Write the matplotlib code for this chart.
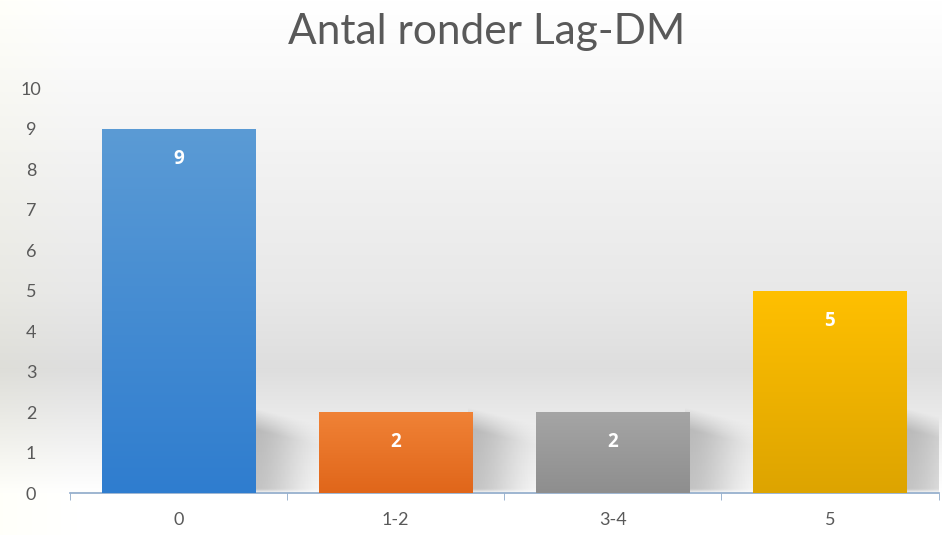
import numpy as np
import matplotlib
matplotlib.use("Agg")
import matplotlib.pyplot as plt
from matplotlib.colors import LinearSegmentedColormap

categories = ["0", "1-2", "3-4", "5"]
values = [9, 2, 2, 5]
top_colors = ["#5B9BD5", "#F08236", "#A5A5A5", "#FFC000"]
bottom_colors = ["#2F7DCF", "#E0661A", "#8E8E8E", "#DDA400"]
yticks = list(range(0, 11))

plt.rcParams['font.family'] = ['Lato', 'DejaVu Sans']

fig = plt.figure(figsize=(9.42, 5.35), dpi=100)

# background gradient
bg = fig.add_axes([0, 0, 1, 1], zorder=-10)
bg.set_axis_off()
ys = np.linspace(0, 1, 300)
prof = np.interp(ys, [0, 0.08, 0.2, 0.31, 0.45, 0.7, 0.9, 1.0],
                 [1.0, 1.0, 0.93, 0.87, 0.91, 0.95, 0.985, 1.0])
img = np.ones((300, 400, 3))
img *= prof[:, None, None]
xs = np.linspace(0, 1, 400)
warm = np.clip(1 - xs / 0.08, 0, 1) * 0.02
img[:, :, 2] -= warm[None, :]
bg.imshow(np.clip(img, 0, 1), extent=[0, 1, 0, 1], origin='lower', aspect='auto')
bg.set_xlim(0, 1); bg.set_ylim(0, 1)

ax = fig.add_axes([0.0743, 0.0785, 0.922, 0.757])
ax.patch.set_alpha(0)
x = np.arange(len(categories))
width = 0.705
bars = ax.bar(x, values, width=width, color='none', zorder=3)

# soft shadow texture
sx = np.linspace(0, 1, 120)
sy = np.linspace(0, 1, 80)
SX, SY = np.meshgrid(sx, sy)
alpha = 0.42 * np.exp(-(SX / 0.5) ** 2) * np.clip((1 - SY - 0.3 * SX) / 0.25, 0, 1) \
        * np.clip(SY / 0.05 + 0.4, 0, 1)
shadow = np.zeros((80, 120, 4))
shadow[..., :3] = 0.45
shadow[..., 3] = np.clip(alpha, 0, 1)

for b, v, tc, bc in zip(bars, values, top_colors, bottom_colors):
    cmap = LinearSegmentedColormap.from_list("g", [bc, tc])
    grad = np.linspace(0, 1, 256).reshape(-1, 1)
    x0 = b.get_x(); x1 = x0 + b.get_width()
    im = ax.imshow(grad, extent=[x0, x1, 0, v], origin='lower', aspect='auto',
                   cmap=cmap, zorder=3)
    im.set_clip_path(b)
    ax.imshow(shadow, extent=[x1 - 0.02, x1 + 0.45, 0.02, 2.1], origin='lower',
              aspect='auto', zorder=2, interpolation='bilinear')
    ax.text(b.get_x() + b.get_width() / 2, v - 0.75, str(v), ha='center', va='center',
            color='white', fontsize=13.5, fontweight='bold', zorder=5,
            family=['Open Sans', 'DejaVu Sans'])

ax.set_xlim(-0.5, 3.5)
ax.set_ylim(0, 10)
ax.set_xticks(x)
ax.set_xticklabels(categories)
ax.set_yticks(yticks)
ax.tick_params(axis='x', length=0, pad=14, labelsize=13, labelcolor='#595959')
ax.tick_params(axis='y', length=0, pad=28, labelsize=13, labelcolor='#595959')
for lab in ax.get_yticklabels():
    lab.set_horizontalalignment('center')
ax.set_xticks([-0.5, 0.5, 1.5, 2.5, 3.5], minor=True)
ax.tick_params(axis='x', which='minor', length=5, color='#8EA9C9', direction='out')
for s in ['top', 'right', 'left']:
    ax.spines[s].set_visible(False)
ax.spines['bottom'].set_color('#8EA9C9')
ax.spines['bottom'].set_linewidth(1.2)

fig.text(0.517, 0.94, "Antal ronder Lag-DM", ha='center', va='center',
         fontsize=30.5, color='#595959')

fig.savefig("out.png", dpi=100)
